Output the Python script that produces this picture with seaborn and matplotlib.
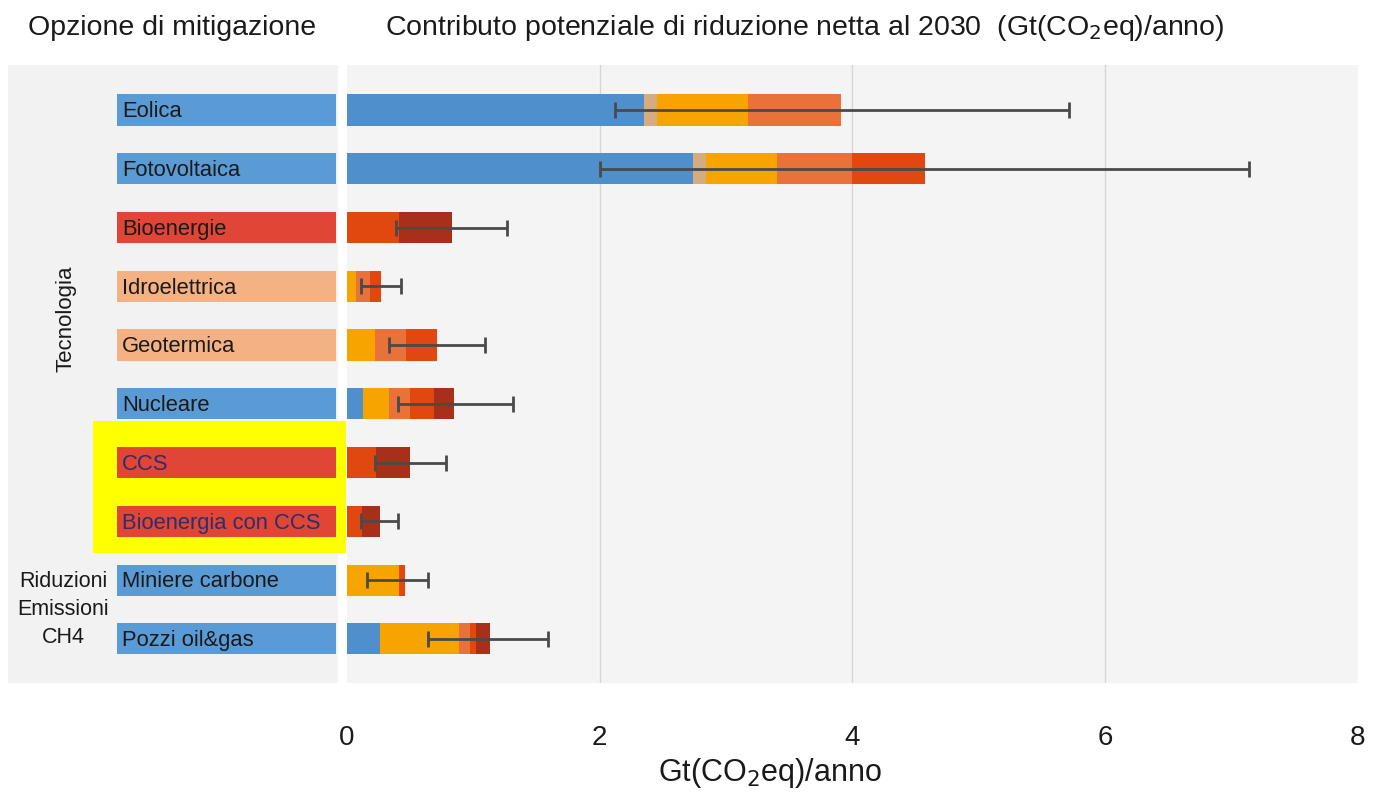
import matplotlib
matplotlib.use("Agg")
import matplotlib.pyplot as plt
import matplotlib.patches as mpatches
import seaborn as sns
import pandas as pd
import numpy as np

# --- DATI ---
opzioni = ["Eolica", "Fotovoltaica", "Bioenergie", "Idroelettrica", "Geotermica",
           "Nucleare", "CCS", "Bioenergia con CCS", "Miniere carbone", "Pozzi oil&gas"]
colori_etichetta = ["#5B9BD5", "#5B9BD5", "#E04535", "#F4B183", "#F4B183",
                    "#5B9BD5", "#E04535", "#E04535", "#5B9BD5", "#5B9BD5"]

# larghezza dei segmenti (Gt CO2eq/anno), da sinistra a destra
seg_blu        = [2.35, 2.74, 0.00, 0.00, 0.00, 0.13, 0.00, 0.00, 0.00, 0.26]
seg_transiz    = [0.10, 0.10, 0.00, 0.00, 0.00, 0.00, 0.00, 0.00, 0.00, 0.00]
seg_arancio    = [0.72, 0.56, 0.00, 0.07, 0.22, 0.20, 0.00, 0.00, 0.41, 0.63]
seg_arancio_ro = [0.74, 0.60, 0.00, 0.11, 0.25, 0.17, 0.00, 0.00, 0.00, 0.08]
seg_rosso      = [0.00, 0.57, 0.41, 0.09, 0.24, 0.19, 0.23, 0.12, 0.05, 0.05]
seg_rosso_scu  = [0.00, 0.00, 0.42, 0.00, 0.00, 0.16, 0.27, 0.14, 0.00, 0.11]

# intervallo (min - max)
err_min = [2.12, 2.00, 0.39, 0.11, 0.33, 0.40, 0.22, 0.11, 0.16, 0.64]
err_max = [5.71, 7.14, 1.27, 0.43, 1.09, 1.31, 0.78, 0.40, 0.64, 1.59]

segmenti = [("blu", seg_blu, "#4F8FCC"),
            ("transiz", seg_transiz, "#D4AC80"),
            ("arancio", seg_arancio, "#F7A400"),
            ("arancio_ro", seg_arancio_ro, "#E8723A"),
            ("rosso", seg_rosso, "#E0480F"),
            ("rosso_scu", seg_rosso_scu, "#A8301A")]

df = pd.DataFrame({"Opzione": opzioni})
cum = np.zeros(len(opzioni))
for nome, vals, _ in segmenti:
    cum = cum + np.array(vals)
    df["cum_" + nome] = cum

# --- FIGURA ---
sns.set_theme(style="white")
plt.rcParams["font.family"] = ["Liberation Sans", "DejaVu Sans"]

W, H = 1382, 794
fig = plt.figure(figsize=(W / 100, H / 100), dpi=100)
fig.patch.set_facecolor("white")

def fx(px): return px / W
def fy(py): return 1 - py / H

top_px, bot_px = 65, 683
ax_l = fig.add_axes([fx(8), fy(bot_px), fx(338 - 8), (bot_px - top_px) / H])
ax = fig.add_axes([fx(347), fy(bot_px), fx(1358 - 347), (bot_px - top_px) / H])

ylim = (9.75, -0.765)

# pannello sinistro (etichette)
ax_l.set_facecolor("#F2F2F2")
ax_l.set_xlim(0, 330)
ax_l.set_ylim(*ylim)
for s in ax_l.spines.values():
    s.set_visible(False)
ax_l.set_xticks([]); ax_l.set_yticks([])
# riquadro giallo
ax_l.add_patch(mpatches.Rectangle((85, 5.29), 253, 2.24, facecolor="#FFFF00",
                                  edgecolor="none", zorder=1, clip_on=False))
ypos = np.arange(len(opzioni))
ax_l.barh(ypos, [219] * len(opzioni), left=109, height=0.53,
          color=colori_etichetta, linewidth=0, zorder=2)
for i, lab in enumerate(opzioni):
    col = "#2B2F6B" if lab in ("CCS", "Bioenergia con CCS") else "#1A1A1A"
    ax_l.text(114, i + 0.03, lab, va="center", ha="left", fontsize=15.8, color=col, zorder=3)
ax_l.text(58, 3.55, "Tecnologia", rotation=90, ha="center", va="center", fontsize=16, color="#1A1A1A")
ax_l.text(55, 8.5, "Riduzioni\nEmissioni\nCH4", ha="center", va="center", fontsize=15.5,
          color="#1A1A1A", linespacing=1.42)

# pannello principale: barre sovrapposte (stacked)
ax.set_facecolor("#F4F4F4")
for nome, _, colore in reversed(segmenti):
    sns.barplot(data=df, x="cum_" + nome, y="Opzione", orient="h", color=colore,
                saturation=1, width=0.53, linewidth=0, edgecolor="none", ax=ax, zorder=2)

centro = (np.array(err_min) + np.array(err_max)) / 2
semi = (np.array(err_max) - np.array(err_min)) / 2
ax.errorbar(centro, ypos, xerr=semi, fmt="none", ecolor="#4A4A4A", elinewidth=2,
            capsize=6, capthick=2, zorder=3)

ax.set_xlim(0, 8)
ax.set_ylim(*ylim)
ax.set_xticks([0, 2, 4, 6, 8])
ax.set_xticklabels(["0", "2", "4", "6", "8"], fontsize=20, color="#1A1A1A")
ax.set_yticks([])
ax.set_ylabel("")
ax.tick_params(axis="x", length=0, pad=30)
for g in [2, 4, 6]:
    ax.axvline(g, color="#D6D6D6", lw=1, zorder=1)
for s in ax.spines.values():
    s.set_visible(False)
ax.set_xlabel("Gt(CO$_2$eq)/anno", fontsize=22, color="#1A1A1A")
ax.xaxis.set_label_coords((770 - 347) / (1358 - 347), -0.118)

# intestazioni
fig.text(fx(28), fy(28), "Opzione di mitigazione", ha="left", va="center", fontsize=20.5, color="#1A1A1A")
fig.text(fx(385), fy(28), "Contributo potenziale di riduzione netta al 2030  (Gt(CO$_2$eq)/anno)",
         ha="left", va="center", fontsize=20.5, color="#1A1A1A")

fig.savefig("out.png", dpi=100)
